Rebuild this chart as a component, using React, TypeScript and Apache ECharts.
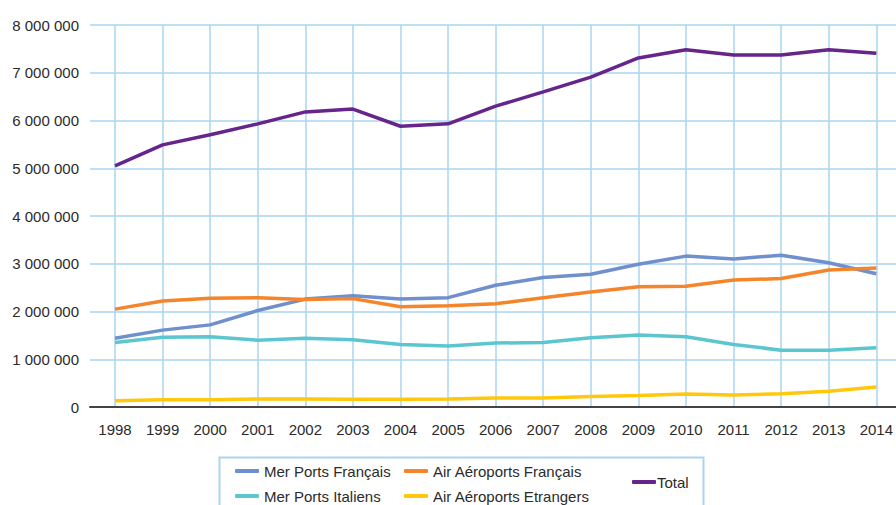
import React, { useEffect, useRef } from "react";
import * as echarts from "echarts";

const years = ["1998","1999","2000","2001","2002","2003","2004","2005","2006","2007","2008","2009","2010","2011","2012","2013","2014"];
const merPortsFrancais = [1440000,1610000,1720000,2020000,2260000,2330000,2260000,2290000,2550000,2710000,2780000,2990000,3160000,3100000,3180000,3020000,2790000];
const airAeroportsFrancais = [2050000,2220000,2280000,2290000,2250000,2270000,2100000,2120000,2160000,2290000,2410000,2520000,2530000,2660000,2690000,2870000,2910000];
const merPortsItaliens = [1350000,1460000,1470000,1400000,1440000,1410000,1310000,1280000,1340000,1350000,1450000,1510000,1470000,1310000,1190000,1190000,1240000];
const airAeroportsEtrangers = [130000,150000,150000,170000,170000,160000,160000,170000,190000,190000,220000,240000,270000,250000,280000,330000,420000];
const total = [5050000,5490000,5700000,5930000,6180000,6240000,5880000,5930000,6300000,6600000,6910000,7310000,7480000,7370000,7370000,7480000,7410000];

const seriesNames = ["Mer Ports Français","Air Aéroports Français","Mer Ports Italiens","Air Aéroports Etrangers","Total"];
const seriesData = [merPortsFrancais, airAeroportsFrancais, merPortsItaliens, airAeroportsEtrangers, total];
const colors = ["#6f8fcd","#f5852a","#5cc6d0","#ffc80a","#65258a"];

const FONT = "'Liberation Sans', Arial, sans-serif";

export default function App() {
  const ref = useRef<HTMLDivElement>(null);
  useEffect(() => {
    if (!ref.current) return;
    const chart = echarts.init(ref.current, null, { renderer: "svg" });
    const fmt = (v: number) => String(v).replace(/\B(?=(\d{3})+(?!\d))/g, " ");
    const legendText = { fontSize: 15, color: "#2b2b2b", fontFamily: FONT, lineHeight: 16 };
    chart.setOption({
      animation: false,
      backgroundColor: "#ffffff",
      grid: [
        { left: 90, right: 0, top: 25, bottom: 98 },
        { left: 115, right: 15, top: 25, bottom: 98 },
      ],
      xAxis: [
        {
          gridIndex: 0, type: "value", min: 0, max: 1,
          axisLine: { show: true, lineStyle: { color: "#444444", width: 2 } },
          axisTick: { show: false }, axisLabel: { show: false }, splitLine: { show: false },
          z: 10,
        },
        {
          gridIndex: 1, type: "category", data: years, boundaryGap: false,
          axisLine: { show: false }, axisTick: { show: false },
          axisLabel: { fontSize: 15, color: "#2b2b2b", fontFamily: FONT, margin: 15, interval: 0 },
          splitLine: { show: true, interval: 0, lineStyle: { color: "#a9d5f0", width: 1.5 } },
        },
      ],
      yAxis: [
        {
          gridIndex: 0, type: "value", min: 0, max: 8000000, interval: 1000000,
          axisLine: { show: false }, axisTick: { show: false },
          axisLabel: { fontSize: 15, color: "#2b2b2b", fontFamily: FONT, margin: 11, formatter: fmt },
          splitLine: { show: true, lineStyle: { color: "#a9d5f0", width: 1.5 } },
        },
        {
          gridIndex: 1, type: "value", min: 0, max: 8000000, interval: 1000000,
          axisLine: { show: false }, axisTick: { show: false }, axisLabel: { show: false },
          splitLine: { show: false },
        },
      ],
      legend: [
        {
          data: [seriesNames[0], seriesNames[2]], orient: "vertical", left: 235, top: 463,
          icon: "roundRect", itemWidth: 24, itemHeight: 4, itemGap: 9, padding: 0,
          textStyle: legendText,
        },
        {
          data: [seriesNames[1], seriesNames[3]], orient: "vertical", left: 404, top: 463,
          icon: "roundRect", itemWidth: 24, itemHeight: 4, itemGap: 9, padding: 0,
          textStyle: legendText,
        },
        {
          data: [seriesNames[4]], orient: "vertical", left: 632, top: 474, padding: 0,
          icon: "roundRect", itemWidth: 24, itemHeight: 4,
          textStyle: { ...legendText, padding: [0, 0, 0, -4] },
        },
      ],
      graphic: [
        {
          type: "rect", left: 217, top: 455,
          shape: { width: 484, height: 60 },
          style: { fill: "none", stroke: "#a9d5f0", lineWidth: 2 },
        },
      ],
      series: seriesNames.map((name, i) => ({
        name, type: "line", xAxisIndex: 1, yAxisIndex: 1,
        data: seriesData[i], showSymbol: false, symbol: "none",
        lineStyle: { color: colors[i], width: 3.5 },
        itemStyle: { color: colors[i] },
        z: i === 4 ? 5 : 3,
      })),
    });
    return () => chart.dispose();
  }, []);
  return (
    <div
      ref={ref}
      style={{ position: "fixed", left: 0, top: 0, width: 896, height: 505 }}
    />
  );
}
